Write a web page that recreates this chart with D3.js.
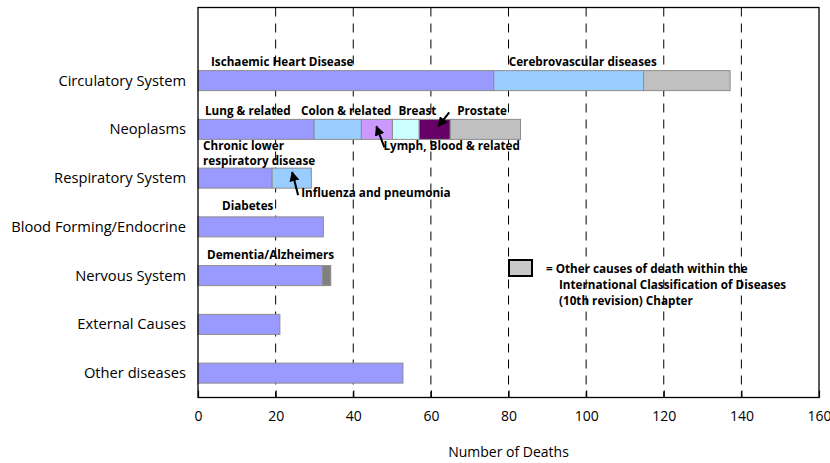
<!DOCTYPE html>
<html>
<head>
<meta charset="utf-8">
<script src="https://cdn.jsdelivr.net/npm/d3@7"></script>
<style>
  body { margin: 0; background: #fff; }
  text { font-family: "Open Sans", sans-serif; }
</style>
</head>
<body>
<div id="chart"></div>
<script>
// categories, top to bottom
const categories = ["Circulatory System", "Neoplasms", "Respiratory System",
  "Blood Forming/Endocrine", "Nervous System", "External Causes", "Other diseases"];

// causes stacked inside each category (left to right)
const causes = [
  ["Ischaemic Heart Disease", "Cerebrovascular diseases", "Other"],
  ["Lung & related", "Colon & related", "Lymph, Blood & related", "Breast", "Prostate", "Other"],
  ["Chronic lower respiratory disease", "Influenza and pneumonia"],
  ["Diabetes"],
  ["Dementia/Alzheimers", "Other"],
  ["External"],
  ["Other diseases"]
];

// number of deaths per cause
const deaths = [
  [76.2, 38.6, 22.3],
  [29.9, 12.2, 8.0, 6.9, 8.0, 18.1],
  [19.1, 10.1],
  [32.3],
  [32.1, 2.1],
  [21.1],
  [52.8]
];

const xTicks = [0, 20, 40, 60, 80, 100, 120, 140, 160];

// fill for each slot, same shape as causes
const fills = [
  ["#9999ff", "#99ccff", "#c0c0c0"],
  ["#9999ff", "#99ccff", "#cc99ff", "#ccffff", "#660066", "#c0c0c0"],
  ["#9999ff", "#99ccff"],
  ["#9999ff"],
  ["#9999ff", "#808080"],
  ["#9999ff"],
  ["#9999ff"]
];

const width = 830, height = 463;
const pLeft = 198, pRight = 819, pTop = 7.5, pBottom = 397.5;

const svg = d3.select("#chart").append("svg")
  .attr("width", width)
  .attr("height", height);

const x = d3.scaleLinear().domain([0, 160]).range([pLeft, pRight]);
const y = d3.scaleBand().domain([""].concat(categories)).range([pTop, pBottom]);
const barH = 20;

// dashed gridlines
svg.append("g").selectAll("line")
  .data(xTicks.filter(t => t > 0 && t < 160))
  .join("line")
  .attr("x1", d => x(d)).attr("x2", d => x(d))
  .attr("y1", pTop).attr("y2", pBottom)
  .attr("stroke", "#000")
  .attr("stroke-width", 1)
  .attr("stroke-dasharray", "9,7");

// stacked segments
const segs = [];
categories.forEach((c, i) => {
  let start = 0;
  deaths[i].forEach((v, j) => {
    segs.push({ cat: c, cause: causes[i][j], x0: start, x1: start + v, fill: fills[i][j] });
    start += v;
  });
});

svg.append("g").selectAll("rect")
  .data(segs)
  .join("rect")
  .attr("x", d => x(d.x0))
  .attr("y", d => y(d.cat) + y.bandwidth() / 2 - barH / 2)
  .attr("width", d => x(d.x1) - x(d.x0))
  .attr("height", barH)
  .attr("fill", d => d.fill)
  .attr("stroke", "#8c8c8c")
  .attr("stroke-width", 1);

// frame
svg.append("rect")
  .attr("x", pLeft).attr("y", pTop)
  .attr("width", pRight - pLeft).attr("height", pBottom - pTop)
  .attr("fill", "none")
  .attr("stroke", "#000")
  .attr("stroke-width", 1.3);

// x axis
const xAxis = svg.append("g")
  .attr("transform", `translate(0,${pBottom})`)
  .call(d3.axisBottom(x).tickValues(xTicks).tickSizeInner(-7).tickSizeOuter(0).tickPadding(14));
xAxis.select(".domain").remove();
xAxis.selectAll("line").attr("stroke", "#000").attr("stroke-width", 1.2);
xAxis.selectAll("text")
  .attr("font-family", "Open Sans, sans-serif")
  .attr("font-size", 14)
  .attr("fill", "#000");

svg.append("text")
  .attr("x", (pLeft + pRight) / 2)
  .attr("y", 457)
  .attr("text-anchor", "middle")
  .attr("font-size", 14)
  .text("Number of Deaths");

// category labels
svg.append("g").selectAll("text")
  .data(categories)
  .join("text")
  .attr("x", 186)
  .attr("y", d => y(d) + y.bandwidth() / 2 + 5)
  .attr("text-anchor", "end")
  .attr("font-size", 14.7)
  .text(d => d);

// segment labels: [category index, cause index, dx from segment start, dy from bar centre]
const labelPos = [
  [0, 0, 13, -15], [0, 1, 15, -15],
  [1, 0, 7, -14], [1, 1, -13, -14], [1, 3, 6, -14], [1, 4, 38, -14], [1, 2, 22, 21],
  [2, 0, 5, -28], [2, 1, 29, 19],
  [3, 0, 24, -17],
  [4, 0, 9, -17]
];

const lbl = svg.append("g")
  .attr("font-size", 11.7)
  .attr("font-weight", "bold");

labelPos.forEach(([i, j, dx, dy]) => {
  const s = segs.find(d => d.cat === categories[i] && d.cause === causes[i][j]);
  const cy = y(s.cat) + y.bandwidth() / 2;
  const t = lbl.append("text")
    .attr("x", x(s.x0) + dx)
    .attr("y", cy + dy);
  if (s.cause === "Chronic lower respiratory disease") {
    t.append("tspan").attr("x", x(s.x0) + dx).text("Chronic lower");
    t.append("tspan").attr("x", x(s.x0) + dx).attr("dy", 15).text("respiratory disease");
  } else {
    t.text(s.cause);
  }
});

// arrows
svg.append("defs").append("marker")
  .attr("id", "ah")
  .attr("viewBox", "0 0 10 10")
  .attr("refX", 9).attr("refY", 5)
  .attr("markerWidth", 5).attr("markerHeight", 5)
  .attr("orient", "auto")
  .append("path").attr("d", "M0,0L10,5L0,10Z").attr("fill", "#000");

const arrows = [
  // [category index, cause index, tail dx, tail dy, tip dx, tip dy] relative to segment start / bar centre
  [1, 4, 30, -17, 19, -3],
  [1, 2, 23, 18, 15, -3],
  [2, 1, 26, 17, 20, -6]
];
arrows.forEach(([i, j, tx, ty, hx, hy]) => {
  const s = segs.find(d => d.cat === categories[i] && d.cause === causes[i][j]);
  const cy = y(s.cat) + y.bandwidth() / 2;
  svg.append("line")
    .attr("x1", x(s.x0) + tx).attr("y1", cy + ty)
    .attr("x2", x(s.x0) + hx).attr("y2", cy + hy)
    .attr("stroke", "#000").attr("stroke-width", 2)
    .attr("marker-end", "url(#ah)");
});

// legend
svg.append("rect")
  .attr("x", 509).attr("y", 260)
  .attr("width", 23).attr("height", 16)
  .attr("fill", "#c8c8c8")
  .attr("stroke", "#000").attr("stroke-width", 2);

const legendLines = ["= Other causes of death within the",
  "International Classification of Diseases",
  "(10th revision) Chapter"];
svg.append("g")
  .attr("font-size", 11.7)
  .attr("font-weight", "bold")
  .selectAll("text")
  .data(legendLines)
  .join("text")
  .attr("x", (d, k) => k === 0 ? 546 : 559)
  .attr("y", (d, k) => 273 + k * 16)
  .text(d => d);
</script>
</body>
</html>
